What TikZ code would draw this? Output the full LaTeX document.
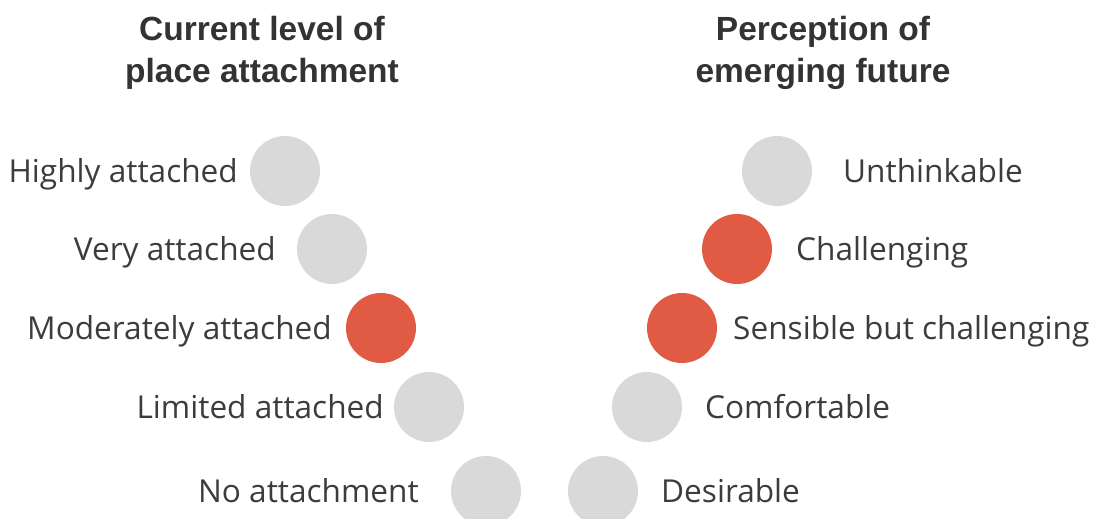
\documentclass[tikz,border=0pt]{standalone}
\usepackage{fontspec}
\setmainfont{Open Sans}
\newfontfamily\titlefont{Liberation Sans}
\definecolor{dotgray}{HTML}{D9D9D9}
\definecolor{dotred}{HTML}{E05A44}
\definecolor{txt}{HTML}{3C3C3C}
\definecolor{ttl}{HTML}{333333}
\tikzset{
  dot/.style={circle, minimum size=70pt, inner sep=0pt, draw=none, fill=dotgray},
  hot/.style={dot, fill=dotred},
  lbl/.style={inner sep=0pt, text=txt, font=\fontsize{31.6}{37}\selectfont},
  lblL/.style={lbl, anchor=base east},
  lblR/.style={lbl, anchor=base west},
  ttlline/.style={inner sep=0pt, anchor=base, text=ttl, font=\titlefont\bfseries\fontsize{33.5}{41}\selectfont}
}
\begin{document}
\begin{tikzpicture}[x=1pt, y=-1pt]
\useasboundingbox (0,0) rectangle (1097,519);
% titles
\node[ttlline] (tl1) at (262,41) {Current level of};
\node[ttlline] (tl2) at (262,82) {place attachment};
\node[ttlline] (tr1) at (823,41) {Perception of};
\node[ttlline] (tr2) at (823,82) {emerging future};
% left column
\node[dot] (l1) at (285,171) {};
\node[dot] (l2) at (332,249) {};
\node[hot] (l3) at (381,328) {};
\node[dot] (l4) at (429,407) {};
\node[dot] (l5) at (486,491) {};
\node[lblL] (a1) at (238,182) {Highly attached};
\node[lblL] (a2) at (276,260) {Very attached};
\node[lblL] (a3) at (332,339) {Moderately attached};
\node[lblL] (a4) at (384,418) {Limited attached};
\node[lblL] (a5) at (419,502) {No attachment};
% right column
\node[dot] (r1) at (777,171) {};
\node[hot] (r2) at (737,249) {};
\node[hot] (r3) at (682,328) {};
\node[dot] (r4) at (647,407) {};
\node[dot] (r5) at (603,491) {};
\node[lblR] (b1) at (843,182) {Unthinkable};
\node[lblR] (b2) at (796,260) {Challenging};
\node[lblR] (b3) at (733,339) {Sensible but challenging};
\node[lblR] (b4) at (705,418) {Comfortable};
\node[lblR] (b5) at (661,502) {Desirable};
\end{tikzpicture}
\end{document}
